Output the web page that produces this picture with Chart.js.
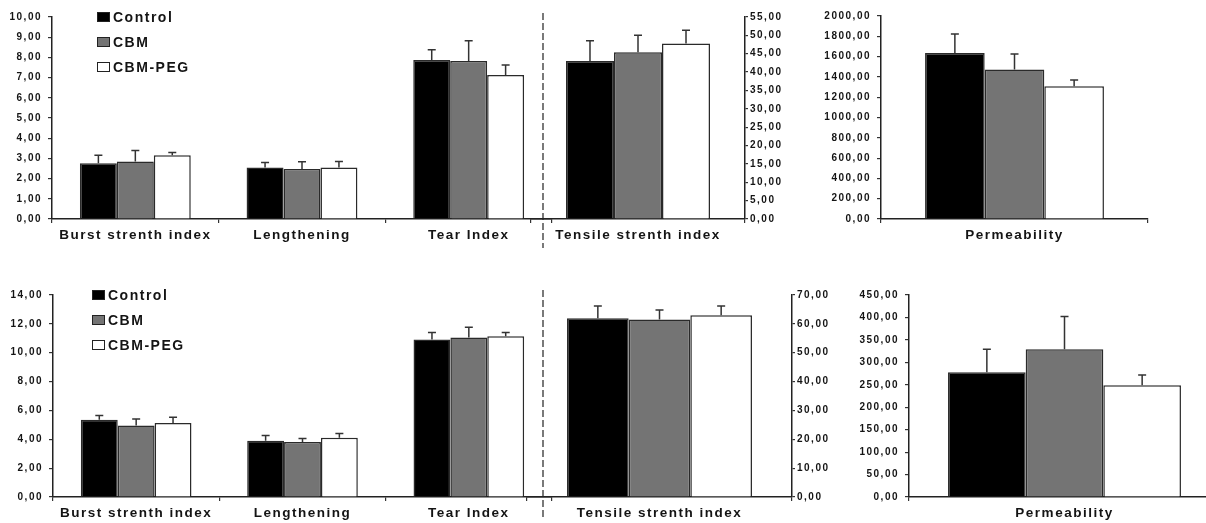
<!DOCTYPE html>
<html>
<head>
<meta charset="utf-8">
<script src="https://cdn.jsdelivr.net/npm/chart.js@4/dist/chart.umd.min.js"></script>
<style>
  html, body { margin: 0; padding: 0; background: #fff; overflow: hidden; }
  #wrap { position: relative; width: 1206px; height: 523px; overflow: hidden; }
  canvas { position: absolute; }
</style>
</head>
<body>
<div id="wrap">
  <canvas id="topMech" width="560" height="260" style="left:0;top:0"></canvas>
  <canvas id="topTensile" width="280" height="260" style="left:520px;top:0"></canvas>
  <canvas id="topPerm" width="370" height="260" style="left:790px;top:0"></canvas>
  <canvas id="botMech" width="560" height="260" style="left:0;top:263px"></canvas>
  <canvas id="botTensile" width="330" height="260" style="left:515px;top:263px"></canvas>
  <canvas id="botPerm" width="430" height="260" style="left:790px;top:263px"></canvas>
</div>
<script>
const groups = ['Control', 'CBM', 'CBM-PEG'];
const mechLabels = ['Burst strenth index', 'Lengthening', 'Tear Index'];
const tensileLabels = ['Tensile strenth index'];
const permLabels = ['Permeability'];

// rows: Control, CBM, CBM-PEG
const topMech = [[2.76, 2.55, 7.87], [2.85, 2.48, 7.82], [3.16, 2.55, 7.13]];
const topMechSd = [[0.40, 0.25, 0.51], [0.54, 0.35, 1.01], [0.13, 0.30, 0.49]];
const topTensile = [[43.0], [45.4], [47.8]];
const topTensileSd = [[5.5], [4.6], [3.6]];
const topPerm = [[1636], [1472], [1308]];
const topPermSd = [[187], [154], [62]];

const botMech = [[5.36, 3.89, 10.91], [4.95, 3.82, 11.05], [5.13, 4.10, 11.14]];
const botMechSd = [[0.28, 0.37, 0.49], [0.46, 0.23, 0.72], [0.40, 0.30, 0.26]];
const botTensile = [[61.9], [61.5], [63.0]];
const botTensileSd = [[4.3], [3.3], [3.2]];
const botPerm = [[278], [329], [249]];
const botPermSd = [[51], [73], [23]];

// axis ranges: [max, step]
const topMechAxis = [10, 1];
const topTensileAxis = [55, 5];
const topPermAxis = [2000, 200];
const botMechAxis = [14, 2];
const botTensileAxis = [70, 10];
const botPermAxis = [450, 50];

const fills = ['#000000', '#747474', '#ffffff'];
const fontFamily = "'Liberation Sans', Arial, sans-serif";
const ink = '#141414';

const fmt = v => Number(v).toFixed(2).replace('.', ',');

const spacing = {
    id: 'spacing',
    beforeUpdate(chart) { chart.ctx.letterSpacing = '1.5px'; },
    beforeDraw(chart) { chart.ctx.letterSpacing = '1.5px'; }
};

const errorBars = {
    id: 'errorBars',
    afterDatasetsDraw(chart) {
        const ctx = chart.ctx;
        const y = chart.scales.y;
        ctx.save();
        ctx.strokeStyle = '#333';
        ctx.lineWidth = 1.5;
        chart.data.datasets.forEach((ds, i) => {
            chart.getDatasetMeta(i).data.forEach((bar, j) => {
                const top = y.getPixelForValue(ds.data[j] + ds.errors[j]);
                ctx.beginPath();
                ctx.moveTo(bar.x, bar.y);
                ctx.lineTo(bar.x, top);
                ctx.moveTo(bar.x - 4, top);
                ctx.lineTo(bar.x + 4, top);
                ctx.stroke();
            });
        });
        ctx.restore();
    }
};

// legend drawn as a column of boxes, like the original
const boxLegend = {
    id: 'boxLegend',
    afterDraw(chart, args, o) {
        if (!o.show) return;
        const ctx = chart.ctx;
        ctx.save();
        ctx.letterSpacing = '1.5px';
        ctx.font = 'bold 14px ' + fontFamily;
        ctx.textBaseline = 'middle';
        chart.data.datasets.forEach((ds, i) => {
            const y = o.y + i * o.gap;
            ctx.fillStyle = ds.backgroundColor;
            ctx.fillRect(o.x, y - 5, 13, 10);
            ctx.strokeStyle = '#222';
            ctx.lineWidth = 1;
            ctx.strokeRect(o.x + 0.5, y - 4.5, 12, 9);
            ctx.fillStyle = ink;
            ctx.fillText(ds.label, o.x + 16, y + 1);
        });
        ctx.restore();
    }
};

const divider = {
    id: 'divider',
    afterDraw(chart, args, o) {
        if (!o.show) return;
        const ctx = chart.ctx;
        ctx.save();
        ctx.strokeStyle = '#333';
        ctx.lineWidth = 1.3;
        ctx.setLineDash([7, 3]);
        ctx.beginPath();
        ctx.moveTo(o.x, o.y0);
        ctx.lineTo(o.x, o.y1);
        ctx.stroke();
        ctx.restore();
    }
};

function datasets(means, sds) {
    return groups.map((g, i) => ({
        label: g,
        data: means[i],
        errors: sds[i],
        backgroundColor: fills[i],
        borderColor: '#2a2a2a',
        borderWidth: 1.5
    }));
}

function drawPanel(id, labels, means, sds, axis, p) {
    const right = p.side === 'right';
    return new Chart(document.getElementById(id), {
        type: 'bar',
        data: { labels: labels, datasets: datasets(means, sds) },
        options: {
            responsive: false,
            animation: false,
            layout: { padding: p.pad },
            datasets: { bar: { categoryPercentage: p.cat, barPercentage: 1 } },
            plugins: {
                legend: { display: false },
                tooltip: { enabled: false },
                boxLegend: p.legend || { show: false },
                divider: p.divider || { show: false }
            },
            scales: {
                x: {
                    grid: { drawOnChartArea: false, tickLength: 4, color: '#333', lineWidth: 1.2 },
                    border: { color: '#222', width: 1.5 },
                    ticks: {
                        color: ink, padding: 4, maxRotation: 0, autoSkip: false,
                        font: { family: fontFamily, size: 13.5, weight: 'bold' }
                    },
                    afterFit: s => { s.height = p.xHeight; }
                },
                y: {
                    position: p.side,
                    min: 0,
                    max: axis[0],
                    grid: { drawOnChartArea: false, tickLength: right ? 3 : 4, color: '#333', lineWidth: 1.2 },
                    border: { color: '#222', width: 1.5 },
                    ticks: {
                        stepSize: axis[1], color: ink, padding: right ? 2 : 6, autoSkip: false,
                        font: { family: fontFamily, size: 10, weight: 'bold' },
                        callback: v => fmt(v)
                    },
                    afterFit: s => { s.width = p.yWidth; }
                }
            }
        },
        plugins: [spacing, errorBars, boxLegend, divider]
    });
}

document.addEventListener('DOMContentLoaded', () => {
    drawPanel('topMech', mechLabels, topMech, topMechSd, topMechAxis, {
        pad: { top: 17, right: 8, left: 0, bottom: 0 }, cat: 0.665, side: 'left',
        yWidth: 52, xHeight: 41,
        legend: { show: true, x: 97, y: 17, gap: 25 },
        divider: { show: true, x: 543, y0: 13, y1: 248 }
    });
    drawPanel('topTensile', tensileLabels, topTensile, topTensileSd, topTensileAxis, {
        pad: { top: 17, right: 0, left: 11, bottom: 0 }, cat: 0.673, side: 'right',
        yWidth: 55, xHeight: 41
    });
    drawPanel('topPerm', permLabels, topPerm, topPermSd, topPermAxis, {
        pad: { top: 16, right: 12, left: 0, bottom: 0 }, cat: 0.67, side: 'left',
        yWidth: 91, xHeight: 41
    });
    drawPanel('botMech', mechLabels, botMech, botMechSd, botMechAxis, {
        pad: { top: 32, right: 8, left: 0, bottom: 0 }, cat: 0.665, side: 'left',
        yWidth: 53, xHeight: 26,
        legend: { show: true, x: 92, y: 32, gap: 25 },
        divider: { show: true, x: 543, y0: 27, y1: 256 }
    });
    drawPanel('botTensile', tensileLabels, botTensile, botTensileSd, botTensileAxis, {
        pad: { top: 32, right: 0, left: 12, bottom: 0 }, cat: 0.698, side: 'right',
        yWidth: 53, xHeight: 26
    });
    drawPanel('botPerm', permLabels, botPerm, botPermSd, botPermAxis, {
        pad: { top: 32, right: 0, left: 0, bottom: 0 }, cat: 0.749, side: 'left',
        yWidth: 119, xHeight: 26
    });
});
</script>
</body>
</html>
